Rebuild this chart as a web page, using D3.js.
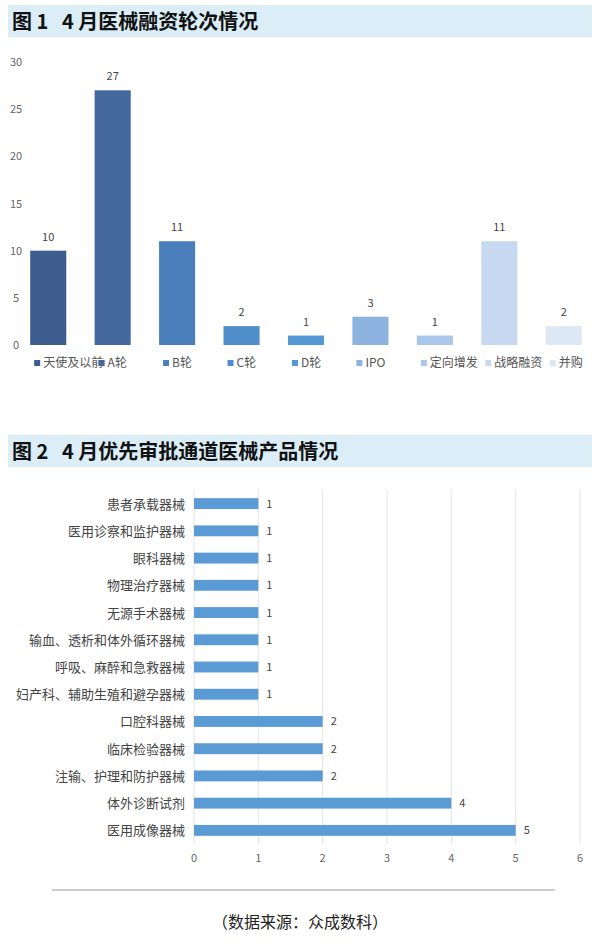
<!DOCTYPE html>
<html><head><meta charset="utf-8">
<script src="https://cdn.jsdelivr.net/npm/d3@7"></script>
<style>
body { margin: 0; background: #fff; font-family: "Noto Sans CJK SC", "Noto Sans", sans-serif; }
</style></head>
<body><svg id="c" width="600" height="946"></svg>
<script>
var roundNames = ["天使及以前", "A轮", "B轮", "C轮", "D轮", "IPO", "定向增发", "战略融资", "并购"];
var roundCounts = [10, 27, 11, 2, 1, 3, 1, 11, 2];
var roundColors = ["#3d5d8f", "#44689e", "#4b7fbb", "#4f8dcb", "#5498d6", "#8cb3e0", "#a8c7ea", "#c6d9f0", "#dde8f5"];
var yTicks1 = [0, 5, 10, 15, 20, 25, 30];

var productNames = ["患者承载器械", "医用诊察和监护器械", "眼科器械", "物理治疗器械", "无源手术器械",
  "输血、透析和体外循环器械", "呼吸、麻醉和急救器械", "妇产科、辅助生殖和避孕器械",
  "口腔科器械", "临床检验器械", "注输、护理和防护器械", "体外诊断试剂", "医用成像器械"];
var productCounts = [1, 1, 1, 1, 1, 1, 1, 1, 2, 2, 2, 4, 5];
var xTicks2 = [0, 1, 2, 3, 4, 5, 6];

var svg = d3.select("#c");

function titleBand(y, text) {
  svg.append("rect").attr("x", 8).attr("y", y).attr("width", 584).attr("height", 32).attr("fill", "#dbeef8");
  svg.append("text").attr("x", 12).attr("y", y + 24).attr("font-size", 20).attr("font-weight", "bold")
    .attr("fill", "#111").attr("xml:space", "preserve").text(text);
}

// chart 1
titleBand(5, "图 1   4 月医械融资轮次情况");
var x1 = d3.scaleBand().domain(roundNames).range([16, 596]).paddingInner(0.44).paddingOuter(0.22);
var y1 = d3.scaleLinear().domain([0, 30]).range([345, 62]);
svg.append("g").selectAll("text").data(yTicks1).join("text")
  .attr("x", 16).attr("y", function (d) { return y1(d) + 4; })
  .attr("text-anchor", "middle").attr("font-size", 11).attr("fill", "#666").text(function (d) { return d; });
svg.append("g").selectAll("rect").data(roundNames).join("rect")
  .attr("x", function (d) { return x1(d); })
  .attr("y", function (d, i) { return y1(roundCounts[i]); })
  .attr("width", x1.bandwidth())
  .attr("height", function (d, i) { return y1(0) - y1(roundCounts[i]); })
  .attr("fill", function (d, i) { return roundColors[i]; });
svg.append("g").selectAll("text").data(roundNames).join("text")
  .attr("x", function (d) { return x1(d) + x1.bandwidth() / 2; })
  .attr("y", function (d, i) { return y1(roundCounts[i]) - 10; })
  .attr("text-anchor", "middle").attr("font-size", 11).attr("fill", "#444")
  .text(function (d, i) { return roundCounts[i]; });
var leg = svg.append("g").selectAll("g").data(roundNames).join("g")
  .attr("transform", function (d) { return "translate(" + (x1(d) + 4) + ",364)"; });
leg.append("rect").attr("x", 0).attr("y", -4).attr("width", 6).attr("height", 6)
  .attr("fill", function (d, i) { return roundColors[i]; });
leg.append("text").attr("x", 9).attr("y", 3).attr("font-size", 12).attr("fill", "#555").text(function (d) { return d; });

// chart 2
titleBand(435, "图 2   4 月优先审批通道医械产品情况");
var x2 = d3.scaleLinear().domain([0, 6]).range([194, 580]);
var y2 = d3.scaleBand().domain(productNames).range([490, 844]).paddingInner(0.6).paddingOuter(0.3);
svg.append("g").selectAll("line").data(xTicks2).join("line")
  .attr("x1", function (d) { return x2(d); }).attr("x2", function (d) { return x2(d); })
  .attr("y1", 490).attr("y2", 844).attr("stroke", "#e4e4e4");
svg.append("g").selectAll("text").data(xTicks2).join("text")
  .attr("x", function (d) { return x2(d); }).attr("y", 862)
  .attr("text-anchor", "middle").attr("font-size", 11).attr("fill", "#666").text(function (d) { return d; });
svg.append("g").selectAll("rect").data(productNames).join("rect")
  .attr("x", x2(0)).attr("y", function (d) { return y2(d); })
  .attr("width", function (d, i) { return x2(productCounts[i]) - x2(0); })
  .attr("height", y2.bandwidth()).attr("fill", "#5b9bd5");
svg.append("g").selectAll("text").data(productNames).join("text")
  .attr("x", function (d, i) { return x2(productCounts[i]) + 8; })
  .attr("y", function (d) { return y2(d) + y2.bandwidth() / 2 + 4; })
  .attr("font-size", 11).attr("fill", "#444").text(function (d, i) { return productCounts[i]; });
svg.append("g").selectAll("text").data(productNames).join("text")
  .attr("x", 185).attr("y", function (d) { return y2(d) + y2.bandwidth() / 2 + 5; })
  .attr("text-anchor", "end").attr("font-size", 13).attr("fill", "#444").text(function (d) { return d; });

svg.append("line").attr("x1", 52).attr("x2", 555).attr("y1", 890).attr("y2", 890).attr("stroke", "#999");
svg.append("text").attr("x", 300).attr("y", 928).attr("text-anchor", "middle").attr("font-size", 16)
  .attr("fill", "#222").text("（数据来源：众成数科）");
</script></body></html>
